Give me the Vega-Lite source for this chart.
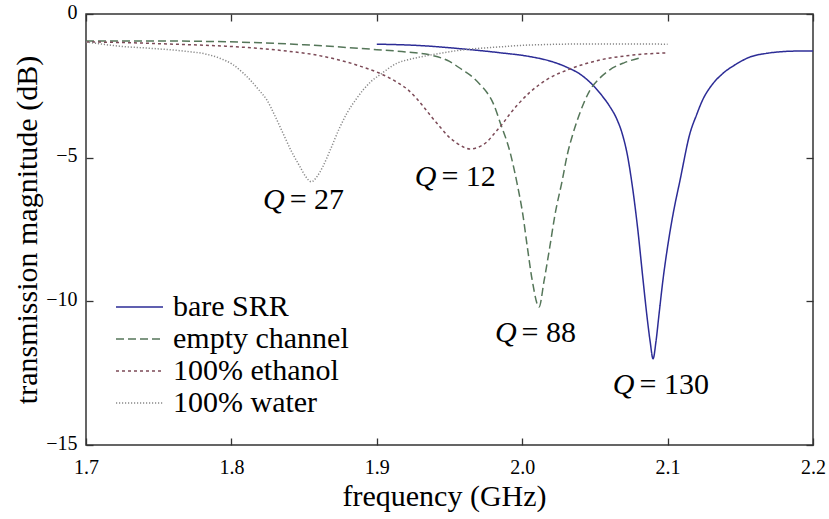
{
 "$schema": "https://vega.github.io/schema/vega-lite/v6.json",
 "width": 727,
 "height": 431,
 "autosize": {"type": "none"},
 "padding": {"left": 86, "top": 14, "right": 16, "bottom": 74},
 "background": "white",
 "config": {
  "font": "'Liberation Serif', 'Times New Roman', serif",
  "view": {"stroke": "#333333", "strokeWidth": 1.5},
  "text": {"font": "'Liberation Serif', 'Times New Roman', serif"},
  "axis": {"domain": false, "grid": false, "tickColor": "#333333", "tickWidth": 1.3, "tickSize": -7, "labelFont": "'Liberation Serif', 'Times New Roman', serif", "labelFontSize": 20, "labelColor": "#000000", "labelFlush": false, "labelOverlap": false, "titleFont": "'Liberation Serif', 'Times New Roman', serif", "titleFontSize": 30, "titleFontWeight": "normal", "titleColor": "#000000"}
 },
 "datasets": {
  "curves": [
   {"series": "bare SRR", "f": 1.900, "dB": -1.05},
   {"series": "bare SRR", "f": 1.930, "dB": -1.10},
   {"series": "bare SRR", "f": 1.960, "dB": -1.22},
   {"series": "bare SRR", "f": 1.985, "dB": -1.35},
   {"series": "bare SRR", "f": 2.005, "dB": -1.48},
   {"series": "bare SRR", "f": 2.020, "dB": -1.65},
   {"series": "bare SRR", "f": 2.031, "dB": -1.86},
   {"series": "bare SRR", "f": 2.040, "dB": -2.1},
   {"series": "bare SRR", "f": 2.045, "dB": -2.3},
   {"series": "bare SRR", "f": 2.050, "dB": -2.55},
   {"series": "bare SRR", "f": 2.055, "dB": -2.85},
   {"series": "bare SRR", "f": 2.060, "dB": -3.2},
   {"series": "bare SRR", "f": 2.065, "dB": -3.65},
   {"series": "bare SRR", "f": 2.069, "dB": -4.2},
   {"series": "bare SRR", "f": 2.0725, "dB": -4.95},
   {"series": "bare SRR", "f": 2.0755, "dB": -5.9},
   {"series": "bare SRR", "f": 2.0795, "dB": -7.5},
   {"series": "bare SRR", "f": 2.083, "dB": -9.2},
   {"series": "bare SRR", "f": 2.086, "dB": -10.6},
   {"series": "bare SRR", "f": 2.088, "dB": -11.4},
   {"series": "bare SRR", "f": 2.090, "dB": -12.0},
   {"series": "bare SRR", "f": 2.092, "dB": -11.4},
   {"series": "bare SRR", "f": 2.094, "dB": -10.5},
   {"series": "bare SRR", "f": 2.0968, "dB": -9.26},
   {"series": "bare SRR", "f": 2.100, "dB": -8.1},
   {"series": "bare SRR", "f": 2.104, "dB": -6.9},
   {"series": "bare SRR", "f": 2.1085, "dB": -5.8},
   {"series": "bare SRR", "f": 2.1154, "dB": -4.15},
   {"series": "bare SRR", "f": 2.120, "dB": -3.5},
   {"series": "bare SRR", "f": 2.124, "dB": -3.0},
   {"series": "bare SRR", "f": 2.130, "dB": -2.5},
   {"series": "bare SRR", "f": 2.138, "dB": -2.07},
   {"series": "bare SRR", "f": 2.147, "dB": -1.75},
   {"series": "bare SRR", "f": 2.157, "dB": -1.49},
   {"series": "bare SRR", "f": 2.168, "dB": -1.37},
   {"series": "bare SRR", "f": 2.179, "dB": -1.31},
   {"series": "bare SRR", "f": 2.190, "dB": -1.29},
   {"series": "bare SRR", "f": 2.200, "dB": -1.29},
   {"series": "empty channel", "f": 1.700, "dB": -0.94},
   {"series": "empty channel", "f": 1.750, "dB": -0.94},
   {"series": "empty channel", "f": 1.790, "dB": -0.96},
   {"series": "empty channel", "f": 1.820, "dB": -1.00},
   {"series": "empty channel", "f": 1.850, "dB": -1.07},
   {"series": "empty channel", "f": 1.875, "dB": -1.15},
   {"series": "empty channel", "f": 1.900, "dB": -1.24},
   {"series": "empty channel", "f": 1.920, "dB": -1.32},
   {"series": "empty channel", "f": 1.937, "dB": -1.43},
   {"series": "empty channel", "f": 1.950, "dB": -1.65},
   {"series": "empty channel", "f": 1.959, "dB": -1.95},
   {"series": "empty channel", "f": 1.966, "dB": -2.2},
   {"series": "empty channel", "f": 1.971, "dB": -2.45},
   {"series": "empty channel", "f": 1.976, "dB": -2.75},
   {"series": "empty channel", "f": 1.980, "dB": -3.1},
   {"series": "empty channel", "f": 1.985, "dB": -3.8},
   {"series": "empty channel", "f": 1.9916, "dB": -4.8},
   {"series": "empty channel", "f": 1.9965, "dB": -5.9},
   {"series": "empty channel", "f": 2.0005, "dB": -7.0},
   {"series": "empty channel", "f": 2.0035, "dB": -8.1},
   {"series": "empty channel", "f": 2.007, "dB": -9.3},
   {"series": "empty channel", "f": 2.0116, "dB": -10.2},
   {"series": "empty channel", "f": 2.015, "dB": -9.3},
   {"series": "empty channel", "f": 2.019, "dB": -8.1},
   {"series": "empty channel", "f": 2.0225, "dB": -7.0},
   {"series": "empty channel", "f": 2.0275, "dB": -5.8},
   {"series": "empty channel", "f": 2.031, "dB": -4.9},
   {"series": "empty channel", "f": 2.035, "dB": -4.15},
   {"series": "empty channel", "f": 2.040, "dB": -3.4},
   {"series": "empty channel", "f": 2.0466, "dB": -2.65},
   {"series": "empty channel", "f": 2.053, "dB": -2.25},
   {"series": "empty channel", "f": 2.060, "dB": -1.95},
   {"series": "empty channel", "f": 2.070, "dB": -1.70},
   {"series": "empty channel", "f": 2.081, "dB": -1.53},
   {"series": "100% ethanol", "f": 1.700, "dB": -0.97},
   {"series": "100% ethanol", "f": 1.730, "dB": -1.00},
   {"series": "100% ethanol", "f": 1.760, "dB": -1.05},
   {"series": "100% ethanol", "f": 1.796, "dB": -1.12},
   {"series": "100% ethanol", "f": 1.820, "dB": -1.20},
   {"series": "100% ethanol", "f": 1.838, "dB": -1.29},
   {"series": "100% ethanol", "f": 1.855, "dB": -1.40},
   {"series": "100% ethanol", "f": 1.870, "dB": -1.55},
   {"series": "100% ethanol", "f": 1.880, "dB": -1.68},
   {"series": "100% ethanol", "f": 1.890, "dB": -1.84},
   {"series": "100% ethanol", "f": 1.900, "dB": -2.02},
   {"series": "100% ethanol", "f": 1.907, "dB": -2.18},
   {"series": "100% ethanol", "f": 1.914, "dB": -2.38},
   {"series": "100% ethanol", "f": 1.921, "dB": -2.62},
   {"series": "100% ethanol", "f": 1.927, "dB": -2.92},
   {"series": "100% ethanol", "f": 1.932, "dB": -3.22},
   {"series": "100% ethanol", "f": 1.938, "dB": -3.6},
   {"series": "100% ethanol", "f": 1.9435, "dB": -3.93},
   {"series": "100% ethanol", "f": 1.949, "dB": -4.25},
   {"series": "100% ethanol", "f": 1.955, "dB": -4.49},
   {"series": "100% ethanol", "f": 1.960, "dB": -4.64},
   {"series": "100% ethanol", "f": 1.964, "dB": -4.70},
   {"series": "100% ethanol", "f": 1.969, "dB": -4.65},
   {"series": "100% ethanol", "f": 1.9757, "dB": -4.45},
   {"series": "100% ethanol", "f": 1.981, "dB": -4.15},
   {"series": "100% ethanol", "f": 1.9868, "dB": -3.80},
   {"series": "100% ethanol", "f": 1.992, "dB": -3.45},
   {"series": "100% ethanol", "f": 1.997, "dB": -3.15},
   {"series": "100% ethanol", "f": 2.0054, "dB": -2.72},
   {"series": "100% ethanol", "f": 2.018, "dB": -2.25},
   {"series": "100% ethanol", "f": 2.031, "dB": -1.95},
   {"series": "100% ethanol", "f": 2.0535, "dB": -1.60},
   {"series": "100% ethanol", "f": 2.076, "dB": -1.43},
   {"series": "100% ethanol", "f": 2.100, "dB": -1.35},
   {"series": "100% water", "f": 1.700, "dB": -0.97},
   {"series": "100% water", "f": 1.723, "dB": -1.12},
   {"series": "100% water", "f": 1.746, "dB": -1.20},
   {"series": "100% water", "f": 1.769, "dB": -1.30},
   {"series": "100% water", "f": 1.783, "dB": -1.40},
   {"series": "100% water", "f": 1.792, "dB": -1.54},
   {"series": "100% water", "f": 1.801, "dB": -1.76},
   {"series": "100% water", "f": 1.808, "dB": -2.05},
   {"series": "100% water", "f": 1.813, "dB": -2.30},
   {"series": "100% water", "f": 1.819, "dB": -2.65},
   {"series": "100% water", "f": 1.8245, "dB": -3.00},
   {"series": "100% water", "f": 1.830, "dB": -3.55},
   {"series": "100% water", "f": 1.8355, "dB": -4.15},
   {"series": "100% water", "f": 1.841, "dB": -4.75},
   {"series": "100% water", "f": 1.847, "dB": -5.30},
   {"series": "100% water", "f": 1.851, "dB": -5.65},
   {"series": "100% water", "f": 1.855, "dB": -5.84},
   {"series": "100% water", "f": 1.859, "dB": -5.65},
   {"series": "100% water", "f": 1.863, "dB": -5.30},
   {"series": "100% water", "f": 1.868, "dB": -4.73},
   {"series": "100% water", "f": 1.8747, "dB": -3.93},
   {"series": "100% water", "f": 1.8795, "dB": -3.45},
   {"series": "100% water", "f": 1.886, "dB": -2.95},
   {"series": "100% water", "f": 1.8905, "dB": -2.65},
   {"series": "100% water", "f": 1.896, "dB": -2.35},
   {"series": "100% water", "f": 1.902, "dB": -2.12},
   {"series": "100% water", "f": 1.914, "dB": -1.71},
   {"series": "100% water", "f": 1.925, "dB": -1.55},
   {"series": "100% water", "f": 1.9366, "dB": -1.43},
   {"series": "100% water", "f": 1.959, "dB": -1.25},
   {"series": "100% water", "f": 1.983, "dB": -1.15},
   {"series": "100% water", "f": 2.005, "dB": -1.08},
   {"series": "100% water", "f": 2.050, "dB": -1.04},
   {"series": "100% water", "f": 2.100, "dB": -1.05}
  ],
  "notes": [
   {"f": 1.838, "dB": -6.47, "q": "Q", "rest": "= 27"},
   {"f": 1.9424, "dB": -5.67, "q": "Q", "rest": "= 12"},
   {"f": 1.9975, "dB": -11.1, "q": "Q", "rest": "= 88"},
   {"f": 2.0786, "dB": -12.9, "q": "Q", "rest": "= 130"}
  ]
 },
 "layer": [
  {
   "data": {"name": "curves"},
   "mark": {"type": "line", "strokeWidth": 1.5, "interpolate": "monotone"},
   "encoding": {
    "x": {"field": "f", "type": "quantitative", "scale": {"domain": [1.7, 2.2], "nice": false, "zero": false},
          "axis": {"orient": "bottom", "values": [1.7, 1.8, 1.9, 2.0, 2.1, 2.2], "format": ".1f", "title": "frequency (GHz)", "labelPadding": 19, "titlePadding": 4, "titleX": 358}},
    "y": {"field": "dB", "type": "quantitative", "scale": {"domain": [-15, 0], "nice": false, "zero": false},
          "axis": {"orient": "left", "values": [0, -5, -10, -15], "title": "transmission magnitude (dB)", "labelPadding": 16, "labelOffset": -2, "titlePadding": 3}},
    "color": {"field": "series", "type": "nominal",
              "scale": {"domain": ["bare SRR", "empty channel", "100% ethanol", "100% water"], "range": ["#2c2c96", "#557659", "#7c4a57", "#888888"]},
              "legend": {"orient": "none", "legendX": 29, "legendY": 277, "title": null, "symbolType": "stroke", "symbolSize": 2209, "symbolStrokeWidth": 1.5, "clipHeight": 32, "labelFont": "'Liberation Serif', 'Times New Roman', serif", "labelFontSize": 30, "labelColor": "#000000", "labelOffset": 9, "rowPadding": 0, "padding": 0, "labelLimit": 400}},
    "strokeDash": {"field": "series", "type": "nominal",
              "scale": {"domain": ["bare SRR", "empty channel", "100% ethanol", "100% water"], "range": [[1, 0], [8, 4], [3, 3], [1.2, 1.8]]},
              "legend": {"orient": "none", "legendX": 29, "legendY": 277, "title": null, "symbolType": "stroke", "symbolSize": 2209, "symbolStrokeWidth": 1.5, "clipHeight": 32, "labelFont": "'Liberation Serif', 'Times New Roman', serif", "labelFontSize": 30, "labelColor": "#000000", "labelOffset": 9, "rowPadding": 0, "padding": 0, "labelLimit": 400}}
   }
  },
  {
   "data": {"name": "curves"},
   "mark": {"type": "line", "opacity": 0},
   "encoding": {
    "x": {"field": "f", "type": "quantitative", "axis": {"orient": "top", "labels": false, "title": null, "values": [1.7, 1.8, 1.9, 2.0, 2.1, 2.2]}},
    "y": {"field": "dB", "type": "quantitative", "axis": {"orient": "right", "labels": false, "title": null, "values": [0, -5, -10, -15]}}
   }
  },
  {
   "data": {"name": "notes"},
   "mark": {"type": "text", "font": "'Liberation Serif', 'Times New Roman', serif", "fontSize": 30, "fontStyle": "italic", "align": "right", "baseline": "middle", "dx": -2, "color": "#000000"},
   "encoding": {
    "x": {"field": "f", "type": "quantitative", "axis": null},
    "y": {"field": "dB", "type": "quantitative", "axis": null},
    "text": {"field": "q"}
   }
  },
  {
   "data": {"name": "notes"},
   "mark": {"type": "text", "font": "'Liberation Serif', 'Times New Roman', serif", "fontSize": 30, "align": "left", "baseline": "middle", "dx": 3, "color": "#000000"},
   "encoding": {
    "x": {"field": "f", "type": "quantitative", "axis": null},
    "y": {"field": "dB", "type": "quantitative", "axis": null},
    "text": {"field": "rest"}
   }
  }
 ],
 "resolve": {"axis": {"x": "independent", "y": "independent"}}
}
